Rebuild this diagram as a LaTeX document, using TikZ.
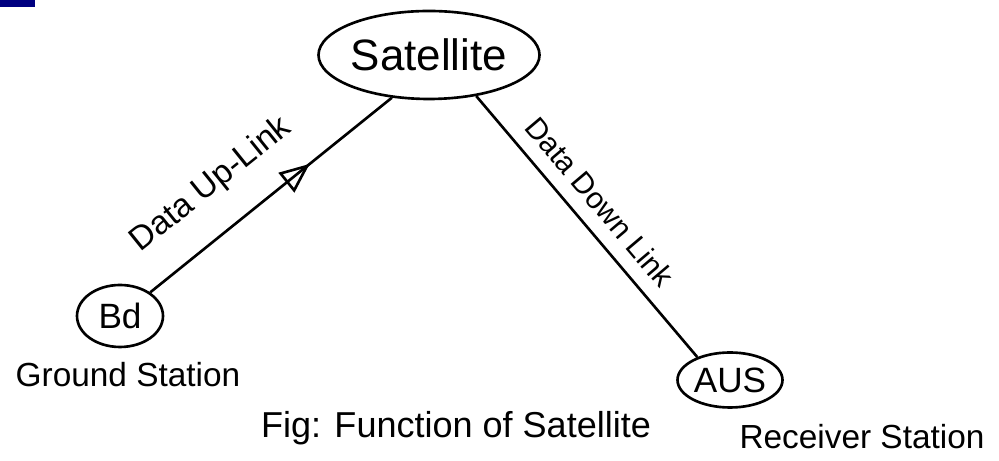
\documentclass[tikz,border=0pt]{standalone}
\usepackage{fontspec}
\setmainfont{Liberation Sans}
\usepackage{tikz}
\usetikzlibrary{shapes.geometric, arrows.meta, decorations.markings}

\begin{document}
\begin{tikzpicture}[
  station/.style={draw, ellipse, line width=1.5pt, inner sep=0pt},
  link/.style={line width=1.5pt},
  uparrow/.style={postaction={decorate}, decoration={markings,
    mark=at position 0.66 with {\arrow{Triangle[open, length=6mm, width=5mm]}}}},
  hand/.style={font=\fontsize{19}{22}\selectfont}
]
\useasboundingbox (0,0) rectangle (19.98,9.22);
\fill[blue!50!black] (0,9.08) rectangle (0.7,9.22);
\node[station, minimum width=4.16cm, minimum height=1.76cm, font=\fontsize{25}{30}\selectfont] (sat) at (8.58,8.12) {Satellite};
\node[station, minimum width=1.72cm, minimum height=1.24cm, font=\fontsize{20}{24}\selectfont] (bd) at (2.40,2.90) {Bd};
\node[station, minimum width=2.10cm, minimum height=1.10cm, font=\fontsize{20}{24}\selectfont] (aus) at (14.60,1.62) {AUS};
\draw[link, uparrow] (bd.38) -- (sat.229) node[sloped, pos=0.37, above=0.45cm, hand] (uplbl) {Data Up-Link};
\draw[link] (sat.319) -- (aus.145) node[sloped, pos=0.47, above=0.16cm, font=\fontsize{17}{20}\selectfont] (downlbl) {Data Down Link};
\node[hand] (ground) at (2.56,1.72) {Ground Station};
\node[hand] (receiver) at (17.24,0.48) {Receiver Station};
\node[font=\fontsize{20.5}{24}\selectfont] (caption) at (9.12,0.66) {Fig: Function of Satellite};
\end{tikzpicture}
\end{document}
